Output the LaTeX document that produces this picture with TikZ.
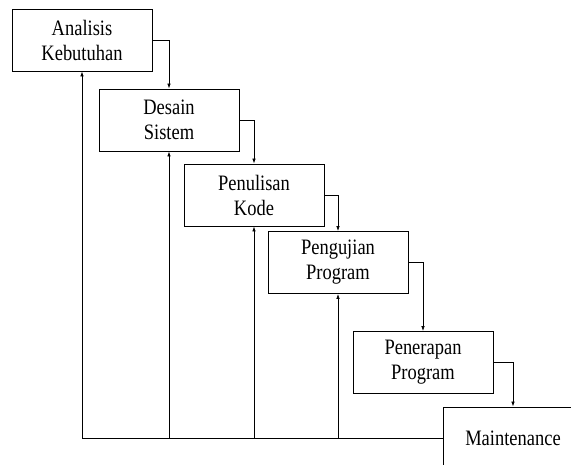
\documentclass[tikz,border=0pt]{standalone}
\usepackage{fontspec}
\usepackage{tikz}
\usetikzlibrary{arrows.meta}
\newfontfamily\stagefont[FakeStretch=0.84]{Liberation Serif}

\begin{document}
\begin{tikzpicture}[x=1pt,y=-1pt,
    stage/.style={draw, line width=0.8pt, minimum width=140pt, minimum height=62pt,
      align=center, font=\stagefont\fontsize{22}{25}\selectfont},
    flow/.style={line width=0.7pt, -{Latex[length=5pt,width=3.5pt]}}]
        \useasboundingbox (0,0) rectangle (571,465);
        \clip (0,0) rectangle (571,465);
        \node[stage] (analisis) at (82,40) {Analisis\\Kebutuhan};
        \node[stage] (desain) at (169,120) {Desain\\Sistem};
        \node[stage] (kode) at (254,195) {Penulisan\\Kode};
        \node[stage] (uji) at (338,262.5) {Pengujian\\Program};
        \node[stage] (terap) at (423,362.5) {Penerapan\\Program};
        \node[stage] (maint) at (513,438) {Maintenance};
        % alur ke bawah
        \draw[flow] (analisis.east) -| (desain.north);
        \draw[flow] (desain.east) -| (kode.north);
        \draw[flow] (kode.east) -| (uji.north);
        \draw[flow] (uji.east) -| (terap.north);
        \draw[flow] (terap.east) -| (maint.north);
        % umpan balik
        \draw[flow] (maint.west) -| (analisis.south);
        \draw[flow] (desain.south |- maint.west) -- (desain.south);
        \draw[flow] (kode.south |- maint.west) -- (kode.south);
        \draw[flow] (uji.south |- maint.west) -- (uji.south);
    \end{tikzpicture}
\end{document}
